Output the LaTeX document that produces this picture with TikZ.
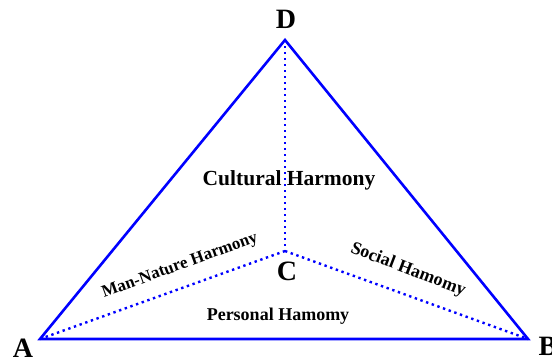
\documentclass[tikz,border=0pt]{standalone}
\usepackage{fontspec}
\setmainfont{Liberation Serif}
\begin{document}
\begin{tikzpicture}[x=1pt,y=-1pt,
  edge/.style={draw={rgb,255:red,0;green,0;blue,255},line width=2.6pt,line join=miter},
  dotline/.style={draw={rgb,255:red,0;green,0;blue,255},line width=2.4pt,dash pattern=on 2.4pt off 3.6pt},
  corner/.style={font=\fontsize{28}{30}\selectfont\bfseries,anchor=base,inner sep=0pt},
  lab/.style={font=\bfseries,inner sep=0pt}]
\useasboundingbox (0,0) rectangle (552,360);
\coordinate (A) at (40,339);
\coordinate (B) at (528,339);
\coordinate (D) at (285,40);
\coordinate (C) at (285,251);
\draw[dotline] (D) -- (C);
\draw[dotline] (A) -- (C);
\draw[dotline] (C) -- (B);
\draw[edge] (A) -- (B) -- (D) -- cycle;
\node[corner] (lA) at (23,357) {A};
\node[corner] (lB) at (548,355) {B};
\node[corner] (lC) at (287,280) {C};
\node[corner] (lD) at (286,28) {D};
\node[lab,font=\fontsize{21.5}{24}\selectfont\bfseries] (cult) at (289,180) {Cultural Harmony};
\node[lab,font=\fontsize{18}{20}\selectfont\bfseries] (pers) at (278,316) {Personal Hamomy};
\node[lab,font=\fontsize{17}{19}\selectfont\bfseries,rotate=20] (man) at (180,266) {Man-Nature Harmony};
\node[lab,font=\fontsize{18}{20}\selectfont\bfseries,rotate=-21] (soc) at (408,270) {Social Hamomy};
\end{tikzpicture}
\end{document}
